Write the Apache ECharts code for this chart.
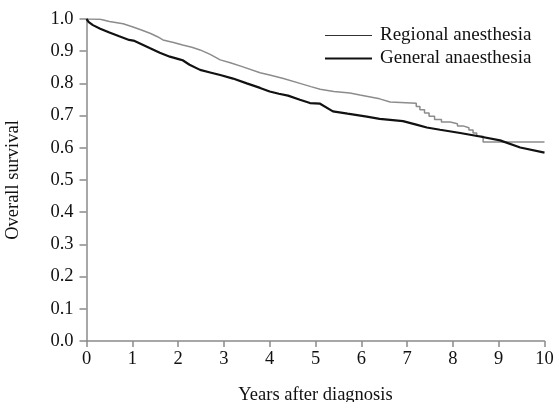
<!DOCTYPE html>
<html><head><meta charset="utf-8">
<script src="https://cdn.jsdelivr.net/npm/echarts@6/dist/echarts.min.js"></script>
<style>html,body{margin:0;padding:0;background:#fff}#c{width:555px;height:402px}</style>
</head><body><div id="c"></div>
<script>
var xTicks = [0,1,2,3,4,5,6,7,8,9,10];
var yTicks = [0.0,0.1,0.2,0.3,0.4,0.5,0.6,0.7,0.8,0.9,1.0];
var seriesNames = ['Regional anesthesia','General anaesthesia'];
var regionalT = [0,0.3,0.5,0.8,1.0,1.2,1.4,1.55,1.67,1.9,2.1,2.3,2.48,2.7,2.92,3.14,3.4,3.79,4.0,4.3,4.66,4.9,5.1,5.4,5.75,5.97,6.2,6.4,6.63,7.2,7.2,7.28,7.28,7.38,7.38,7.48,7.48,7.6,7.6,7.75,7.75,7.94,7.94,8.1,8.1,8.22,8.22,8.35,8.35,8.44,8.44,8.52,8.52,8.66,8.66,10];
var regionalS = [1.0,0.999,0.992,0.985,0.976,0.966,0.955,0.945,0.935,0.927,0.919,0.912,0.904,0.89,0.873,0.864,0.852,0.833,0.826,0.815,0.80,0.79,0.782,0.775,0.77,0.764,0.758,0.752,0.742,0.738,0.728,0.728,0.718,0.718,0.708,0.708,0.698,0.698,0.688,0.688,0.68,0.68,0.675,0.675,0.668,0.668,0.662,0.662,0.655,0.655,0.646,0.646,0.636,0.636,0.618,0.618];
var generalT = [0,0.05,0.14,0.3,0.5,0.7,0.93,0.97,1.05,1.39,1.6,1.82,2.05,2.1,2.25,2.48,2.7,2.92,3.2,3.5,3.79,4.0,4.2,4.4,4.66,4.88,5.1,5.38,5.7,6.12,6.4,6.63,6.91,7.2,7.43,7.72,8.16,8.59,9.03,9.47,10];
var generalS = [1.0,0.99,0.981,0.970,0.958,0.947,0.935,0.94,0.932,0.909,0.895,0.883,0.874,0.872,0.858,0.842,0.834,0.826,0.815,0.80,0.786,0.775,0.768,0.762,0.749,0.739,0.737,0.713,0.706,0.697,0.69,0.687,0.683,0.672,0.663,0.656,0.646,0.635,0.623,0.601,0.585];

function pairs(t,s){return t.map(function(v,i){return [v,s[i]];});}
var font = 'Liberation Serif, Times New Roman, serif';
var axisCol = '#8a8a8a';
var chart = echarts.init(document.getElementById('c'));
chart.setOption({
  animation:false,
  backgroundColor:'#fff',
  textStyle:{fontFamily:font},
  grid:{left:86.5,right:10.5,top:19,bottom:61,containLabel:false,outerBoundsMode:'none'},
  legend:[{
    data:[{name:seriesNames[0],itemStyle:{color:'#333'}}],
    left:320, top:21, icon:'rect', itemWidth:47, itemHeight:1.2, itemGap:0,
    textStyle:{fontFamily:font,fontSize:19,color:'#111',padding:[0,0,0,3]}, selectedMode:false
  },{
    data:[{name:seriesNames[1],itemStyle:{color:'#111'}}],
    left:320, top:44, icon:'rect', itemWidth:47, itemHeight:2.2, itemGap:0,
    textStyle:{fontFamily:font,fontSize:19,color:'#111',padding:[0,0,0,3]}, selectedMode:false
  }],
  xAxis:{
    type:'value', min:0, max:10, interval:1,
    name:'Years after diagnosis', nameLocation:'middle', nameGap:45,
    nameTextStyle:{fontFamily:font,fontSize:18.5,color:'#111'},
    axisLine:{show:true,lineStyle:{color:axisCol,width:1.5}},
    axisTick:{show:true,length:6,lineStyle:{color:axisCol,width:1.5}},
    axisLabel:{fontFamily:font,fontSize:18.5,color:'#111',margin:9,
      formatter:function(v){return xTicks.indexOf(v)>=0?String(v):'';}},
    splitLine:{show:false}
  },
  yAxis:{
    type:'value', min:0, max:1, interval:0.1,
    name:'Overall survival', nameLocation:'middle', nameGap:64,
    nameTextStyle:{fontFamily:font,fontSize:18.5,color:'#111'},
    axisLine:{show:true,lineStyle:{color:axisCol,width:1.5}},
    axisTick:{show:true,length:7,lineStyle:{color:axisCol,width:1.5}},
    axisLabel:{fontFamily:font,fontSize:18.5,color:'#111',margin:13,
      formatter:function(v){return v.toFixed(1);}},
    splitLine:{show:false}
  },
  series:[{
    name:seriesNames[0], type:'line', symbol:'none',
    data:pairs(regionalT,regionalS),
    lineStyle:{color:'#8c8c8c',width:1.5}, itemStyle:{color:'#8c8c8c'}, z:2
  },{
    name:seriesNames[1], type:'line', symbol:'none',
    data:pairs(generalT,generalS),
    lineStyle:{color:'#111',width:2.2}, itemStyle:{color:'#111'}, z:3
  }]
});
</script></body></html>
